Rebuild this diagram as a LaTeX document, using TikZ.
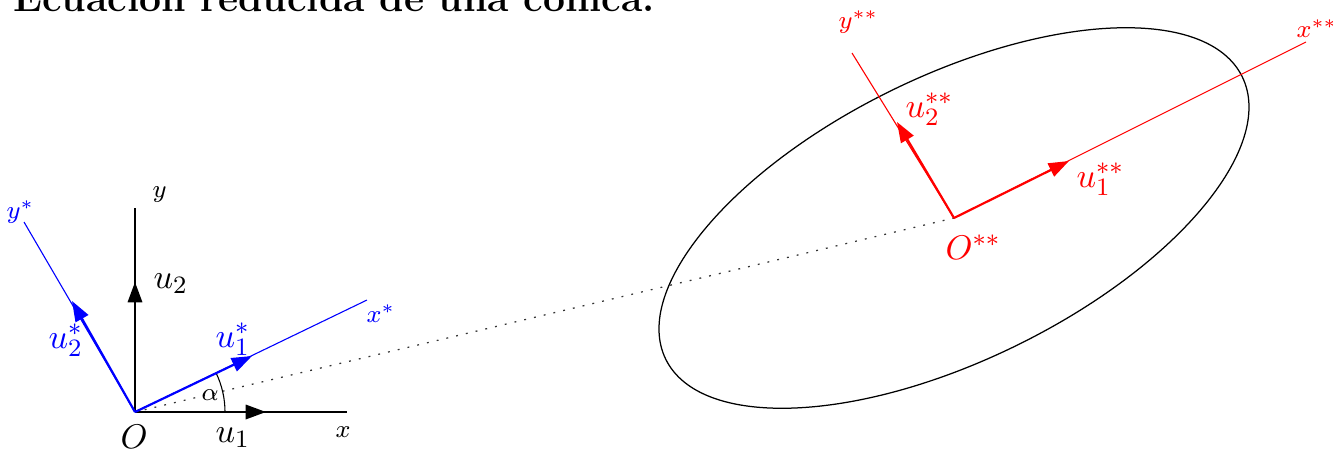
\documentclass[tikz,border=0pt]{standalone}
\usetikzlibrary{arrows.meta,calc}
\begin{document}
\begin{tikzpicture}[x=0.32pt,y=0.32pt,
  axis/.style={line width=0.35pt},
  vec/.style={line width=0.7pt,-{Triangle[length=6.5pt,width=4.6pt]}},
  lbl/.style={inner sep=0pt,anchor=base west},
  smalllbl/.style={lbl,font=\fontsize{8}{10}\selectfont},
  biglbl/.style={lbl,font=\fontsize{11}{13}\selectfont}]
\useasboundingbox (0,0) rectangle (1333,449);
% points
\coordinate (O) at (135,37);
\coordinate (xe) at (347,37);
\coordinate (ye) at (135,241);
\coordinate (u1t) at (266,37);
\coordinate (u2t) at (135,167);
\coordinate (xse) at (367,149);
\coordinate (yse) at (24,227);
\coordinate (u1st) at (252,93);
\coordinate (u2st) at (72,148);
\coordinate (Oss) at (954,231);
\coordinate (xsse) at (1306,407);
\coordinate (ysse) at (852,396);
\coordinate (u1sst) at (1069,288);
\coordinate (u2sst) at (897,327);
% title
\node[lbl,font=\fontsize{12.5}{15}\bfseries] (title) at (13,438) {Ecuación reducida de una cónica.};
% ellipse
\draw[line width=0.4pt,rotate around={26.1:(Oss)}] (Oss) ellipse [x radius=321,y radius=142];
% dotted join
\draw[line width=0.4pt,dash pattern=on 0.6pt off 2.6pt,black!80] (O) -- (Oss);
% black frame
\draw[axis] (O) -- (xe);
\draw[axis] (O) -- (ye);
\draw[vec] (O) -- (u1t);
\draw[vec] (O) -- (u2t);
\draw[line width=0.35pt] ($(O)+(90,0)$) arc[start angle=0,end angle=25.8,radius=90];
% blue frame
\draw[axis,blue] (O) -- (xse);
\draw[axis,blue] (O) -- (yse);
\draw[vec,blue] (O) -- (u1st);
\draw[vec,blue] (O) -- (u2st);
% red frame
\draw[axis,red] (Oss) -- (xsse);
\draw[axis,red] (Oss) -- (ysse);
\draw[vec,red] (Oss) -- (u1sst);
\draw[vec,red] (Oss) -- (u2sst);
% labels black
\node[smalllbl] (ly) at (152,252) {$y$};
\node[smalllbl] (lx) at (335,12) {$x$};
\node[biglbl] (lu2) at (153,161) {$u_2$};
\node[biglbl] (lu1) at (215,7) {$u_1$};
\node[biglbl] (lO) at (120,1) {$O$};
\node[smalllbl] (la) at (201,49) {$\alpha$};
% labels blue
\node[biglbl,text=blue] (lu1s) at (215,102) {$u_1^*$};
\node[biglbl,text=blue] (lu2s) at (48,101) {$u_2^*$};
\node[smalllbl,text=blue] (lxs) at (366,127) {$x^*$};
\node[smalllbl,text=blue] (lys) at (6,231) {$y^*$};
% labels red
\node[smalllbl,text=red] (lyss) at (838,421) {$y^{**}$};
\node[smalllbl,text=red] (lxss) at (1296,412) {$x^{**}$};
\node[biglbl,text=red] (lu2ss) at (905,332) {$u_2^{**}$};
\node[biglbl,text=red] (lu1ss) at (1076,262) {$u_1^{**}$};
\node[biglbl,text=red] (lOss) at (945,190) {$O^{**}$};
\end{tikzpicture}
\end{document}
